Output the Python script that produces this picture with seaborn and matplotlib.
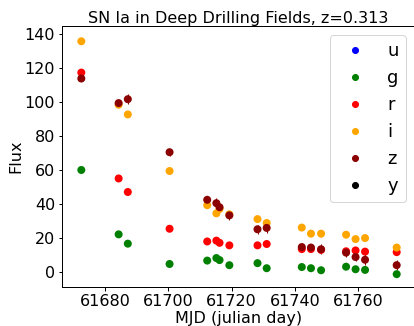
import numpy as np
import pandas as pd
import matplotlib
matplotlib.use("Agg")
import matplotlib.pyplot as plt
from matplotlib.lines import Line2D
import seaborn as sns

# Light curve of a type Ia supernova, flux per LSST band
bands = ["u", "g", "r", "i", "z", "y"]
band_colors = ["blue", "green", "red", "orange", "darkred", "black"]

mjd = [61672.5, 61684.3, 61687.2, 61700.4, 61712.3, 61715.2, 61716.2, 61719.3,
       61728.2, 61731.1, 61742.2, 61745.1, 61748.3, 61756.2, 61759.2, 61762.2, 61772.2]

flux_g = [60.0, 22.0, 16.5, 4.5, 6.5, 8.0, 6.8, 3.8, 5.0, 2.0, 2.7, 2.0, 0.8, 2.9, 1.4, 1.0, -1.5]
err_g = [0.8, 0.8, 1.5, 0.8, 0.8, 1.0, 0.8, 1.5, 0.8, 0.8, 0.8, 0.8, 1.0, 0.8, 0.8, 0.8, 1.0]

flux_r = [117.5, 55.0, 47.0, 25.3, 17.8, 18.3, 17.0, 15.5, 15.5, 16.3, 13.3, 13.3, 12.8, 12.0, 12.5, 11.8, 11.5]
err_r = [1.0, 0.8, 0.8, 0.8, 0.8, 0.8, 1.0, 0.8, 0.8, 0.8, 0.8, 0.8, 0.8, 0.8, 0.8, 0.8, 1.0]

flux_i = [136.0, 98.5, 92.8, 59.4, 39.2, 34.4, 37.0, 33.8, 31.0, 28.7, 26.0, 22.4, 22.4, 21.8, 19.2, 19.8, 14.2]
err_i = [1.0, 1.0, 1.0, 1.0, 1.0, 1.5, 1.2, 1.5, 1.0, 1.5, 1.0, 1.0, 2.0, 1.0, 1.0, 1.2, 1.5]

flux_z = [114.0, 99.5, 101.8, 70.5, 42.4, 40.4, 38.0, 33.2, 25.0, 25.8, 14.5, 14.2, 13.2, 11.2, 8.6, 7.0, 3.8]
err_z = [1.5, 1.8, 3.0, 2.0, 1.8, 3.0, 2.0, 2.5, 2.5, 2.8, 2.2, 2.2, 3.0, 2.5, 2.2, 3.2, 2.8]

series = {"g": (flux_g, err_g), "r": (flux_r, err_r),
          "i": (flux_i, err_i), "z": (flux_z, err_z)}

rows = []
for band in bands:
    if band in series:
        f, e = series[band]
        for t, v, s in zip(mjd, f, e):
            rows.append({"mjd": t, "flux": v, "err": s, "band": band})
df = pd.DataFrame(rows)

sns.set_theme(style="ticks")
plt.rcParams["font.family"] = ["DejaVu Sans"]
plt.rcParams.update({"axes.edgecolor": "black", "xtick.color": "black",
                     "ytick.color": "black", "text.color": "black",
                     "axes.labelcolor": "black", "axes.linewidth": 1.0})

palette = dict(zip(bands, band_colors))

fig = plt.figure(figsize=(414 / 72, 326 / 72), dpi=72)
ax = fig.add_axes([0.1498, 0.1206, 0.8527, 0.7996])

for band in bands:
    sub = df[df["band"] == band]
    if len(sub):
        ax.errorbar(sub["mjd"], sub["flux"], yerr=sub["err"], fmt="none",
                    ecolor=palette[band], elinewidth=1.0, zorder=2)

sns.scatterplot(data=df, x="mjd", y="flux", hue="band", hue_order=bands,
                palette=palette, s=64, linewidth=0, ax=ax, legend=False, zorder=3)

handles = [Line2D([], [], marker="o", linestyle="none", color=c, markersize=6)
           for c in band_colors]
ax.legend(handles, bands, loc="upper right", fontsize=18, frameon=True)

ax.set_xlim(61666.4, 61778.0)
ax.set_ylim(-8.9, 145.0)
ax.set_xticks([61680, 61700, 61720, 61740, 61760])
ax.set_yticks([0, 20, 40, 60, 80, 100, 120, 140])
ax.ticklabel_format(useOffset=False, axis="x")
ax.tick_params(labelsize=16, length=3.5, width=1)
ax.set_xlabel("MJD (julian day)", fontsize=16, labelpad=2)
ax.set_ylabel("Flux", fontsize=16, labelpad=1)
ax.set_title("SN Ia in Deep Drilling Fields, z=0.313", fontsize=16, pad=3)

fig.savefig("out.png", dpi=72)
